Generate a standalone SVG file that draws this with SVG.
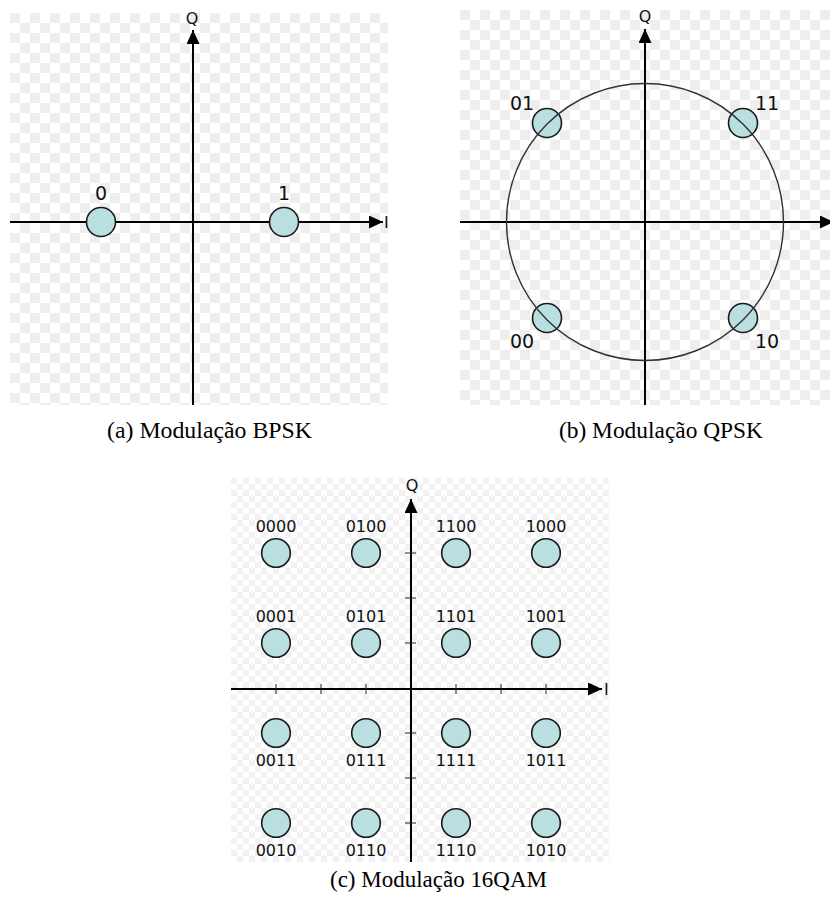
<svg xmlns="http://www.w3.org/2000/svg" width="830" height="901" viewBox="0 0 830 901">
<defs>
  <pattern id="chkA" patternUnits="userSpaceOnUse" x="10" y="13" width="20" height="20">
    <rect width="20" height="20" fill="#ffffff"/>
    <rect width="10" height="10" fill="#eeeeee"/>
    <rect x="10" y="10" width="10" height="10" fill="#eeeeee"/>
  </pattern>
  <pattern id="chkB" patternUnits="userSpaceOnUse" x="460" y="10" width="20" height="20">
    <rect width="20" height="20" fill="#ffffff"/>
    <rect width="10" height="10" fill="#eeeeee"/>
    <rect x="10" y="10" width="10" height="10" fill="#eeeeee"/>
  </pattern>
  <pattern id="chkC" patternUnits="userSpaceOnUse" x="231" y="478" width="12" height="12">
    <rect width="12" height="12" fill="#ffffff"/>
    <rect width="6" height="6" fill="#f2f2f2"/>
    <rect x="6" y="6" width="6" height="6" fill="#f2f2f2"/>
  </pattern>
  <marker id="arr" markerUnits="userSpaceOnUse" markerWidth="15" markerHeight="14" refX="14" refY="6.5" orient="auto">
    <path d="M0,0 L14,6.5 L0,13 Z" fill="#000"/>
  </marker>
  <clipPath id="clipB"><rect x="460" y="0" width="370" height="405"/></clipPath>
  <clipPath id="clipA"><rect x="0" y="0" width="388" height="410"/></clipPath>
</defs>
<style>
  .axis { stroke:#000; stroke-width:2; fill:none; }
  .tick { stroke:#222; stroke-width:1; }
  .pt { fill:#b9dfe0; stroke:#1a1a1a; stroke-width:1.6; }
  .lbl { font-family:"DejaVu Sans", sans-serif; fill:#111; text-anchor:middle; }
  .big { font-size:19px; }
  .sm { font-size:16px; }
  .ax { font-family:"DejaVu Sans", sans-serif; font-size:16px; fill:#111; }
  .cap { font-family:"Liberation Serif", "Times New Roman", serif; font-size:23px; fill:#000; }
</style>

<!-- backgrounds -->
<rect x="10" y="13" width="378" height="392" fill="url(#chkA)"/>
<rect x="460" y="10" width="370" height="395" fill="url(#chkB)"/>
<rect x="231" y="478" width="379" height="384" fill="url(#chkC)"/>

<!-- connectors / axes -->
<g id="connectors">
  <g clip-path="url(#clipA)">
    <line class="axis" x1="10" y1="222" x2="383" y2="222" marker-end="url(#arr)"/>
    <line class="axis" x1="193" y1="405" x2="193" y2="30" marker-end="url(#arr)"/>
    <text class="ax" x="384" y="228">I</text>
    <text class="ax" x="192" y="24" text-anchor="middle">Q</text>
  </g>
  <g clip-path="url(#clipB)">
    <line class="axis" x1="460" y1="222" x2="834" y2="222" marker-end="url(#arr)"/>
    <line class="axis" x1="645" y1="405" x2="645" y2="29" marker-end="url(#arr)"/>
    <text class="ax" x="645" y="22" text-anchor="middle">Q</text>
  </g>
  <g id="axes-c">
    <line class="axis" x1="231" y1="689" x2="602" y2="689" marker-end="url(#arr)"/>
    <line class="axis" x1="411" y1="862" x2="411" y2="499" marker-end="url(#arr)"/>
    <text class="ax" x="604" y="695">I</text>
    <text class="ax" x="412" y="491" text-anchor="middle">Q</text>
    <g class="tick">
      <line x1="276" y1="684" x2="276" y2="694"/>
      <line x1="321" y1="684" x2="321" y2="694"/>
      <line x1="366" y1="684" x2="366" y2="694"/>
      <line x1="456" y1="684" x2="456" y2="694"/>
      <line x1="501" y1="684" x2="501" y2="694"/>
      <line x1="546" y1="684" x2="546" y2="694"/>
      <line x1="405" y1="553" x2="416" y2="553"/>
      <line x1="405" y1="598" x2="416" y2="598"/>
      <line x1="405" y1="643" x2="416" y2="643"/>
      <line x1="405" y1="733" x2="416" y2="733"/>
      <line x1="405" y1="778" x2="416" y2="778"/>
      <line x1="405" y1="823" x2="416" y2="823"/>
    </g>
  </g>
</g>

<!-- BPSK nodes -->
<g id="bpsk-0"><circle class="pt" cx="101" cy="222" r="14.5"/><text class="lbl big" x="101" y="200">0</text></g>
<g id="bpsk-1"><circle class="pt" cx="284" cy="222" r="14.5"/><text class="lbl big" x="284" y="200">1</text></g>

<!-- QPSK nodes -->
<g id="qpsk-01"><circle class="pt" cx="547" cy="123" r="14.5"/><text class="lbl big" x="522" y="110">01</text></g>
<g id="qpsk-11"><circle class="pt" cx="743" cy="123" r="14.5"/><text class="lbl big" x="767" y="110">11</text></g>
<g id="qpsk-00"><circle class="pt" cx="547" cy="318" r="14.5"/><text class="lbl big" x="522" y="348">00</text></g>
<g id="qpsk-10"><circle class="pt" cx="743" cy="318" r="14.5"/><text class="lbl big" x="767" y="348">10</text></g>
<!-- QPSK circle drawn over points -->
<circle id="qpsk-ring" cx="645" cy="222" r="138.5" fill="none" stroke="#333" stroke-width="1.4"/>

<!-- 16QAM nodes -->
<g id="qam-0000"><circle class="pt" cx="276" cy="553" r="14.3"/><text class="lbl sm" x="276" y="532">0000</text></g>
<g id="qam-0100"><circle class="pt" cx="366" cy="553" r="14.3"/><text class="lbl sm" x="366" y="532">0100</text></g>
<g id="qam-1100"><circle class="pt" cx="456" cy="553" r="14.3"/><text class="lbl sm" x="456" y="532">1100</text></g>
<g id="qam-1000"><circle class="pt" cx="546" cy="553" r="14.3"/><text class="lbl sm" x="546" y="532">1000</text></g>
<g id="qam-0001"><circle class="pt" cx="276" cy="643" r="14.3"/><text class="lbl sm" x="276" y="622">0001</text></g>
<g id="qam-0101"><circle class="pt" cx="366" cy="643" r="14.3"/><text class="lbl sm" x="366" y="622">0101</text></g>
<g id="qam-1101"><circle class="pt" cx="456" cy="643" r="14.3"/><text class="lbl sm" x="456" y="622">1101</text></g>
<g id="qam-1001"><circle class="pt" cx="546" cy="643" r="14.3"/><text class="lbl sm" x="546" y="622">1001</text></g>
<g id="qam-0011"><circle class="pt" cx="276" cy="733" r="14.3"/><text class="lbl sm" x="276" y="766">0011</text></g>
<g id="qam-0111"><circle class="pt" cx="366" cy="733" r="14.3"/><text class="lbl sm" x="366" y="766">0111</text></g>
<g id="qam-1111"><circle class="pt" cx="456" cy="733" r="14.3"/><text class="lbl sm" x="456" y="766">1111</text></g>
<g id="qam-1011"><circle class="pt" cx="546" cy="733" r="14.3"/><text class="lbl sm" x="546" y="766">1011</text></g>
<g id="qam-0010"><circle class="pt" cx="276" cy="823" r="14.3"/><text class="lbl sm" x="276" y="856">0010</text></g>
<g id="qam-0110"><circle class="pt" cx="366" cy="823" r="14.3"/><text class="lbl sm" x="366" y="856">0110</text></g>
<g id="qam-1110"><circle class="pt" cx="456" cy="823" r="14.3"/><text class="lbl sm" x="456" y="856">1110</text></g>
<g id="qam-1010"><circle class="pt" cx="546" cy="823" r="14.3"/><text class="lbl sm" x="546" y="856">1010</text></g>

<!-- captions -->
<g id="captions">
  <text class="cap" x="107" y="438" textLength="205" lengthAdjust="spacingAndGlyphs">(a) Modulação BPSK</text>
  <text class="cap" x="559" y="438" textLength="204" lengthAdjust="spacingAndGlyphs">(b) Modulação QPSK</text>
  <text class="cap" x="330" y="887" textLength="217" lengthAdjust="spacingAndGlyphs">(c) Modulação 16QAM</text>
</g>
</svg>
